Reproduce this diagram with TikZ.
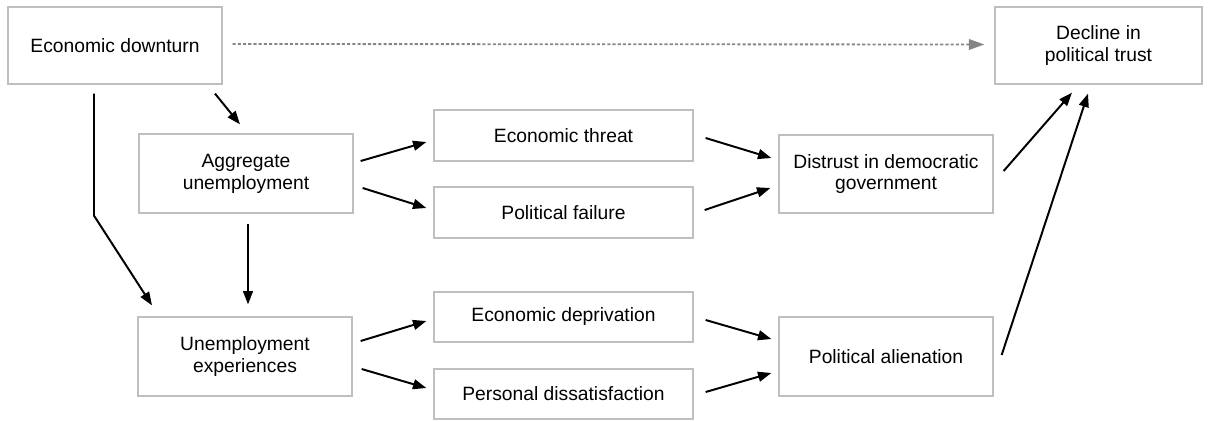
\documentclass[tikz,border=0pt]{standalone}
\usepackage{fontspec}
\setmainfont{Liberation Sans}
\usepackage{xcolor}
\usepackage{tikz}
\usetikzlibrary{positioning, arrows.meta, calc}
\definecolor{boxgray}{HTML}{BFBFBF}
\definecolor{dotgray}{HTML}{858585}

\begin{document}
\begin{tikzpicture}[x=0.025cm, y=-0.025cm,
    box/.style 2 args={draw=boxgray, line width=0.9pt, fill=white,
      minimum width=#1*0.025cm, minimum height=#2*0.025cm,
      inner sep=0pt, align=center, font=\fontsize{13.7}{15.5}\selectfont},
    arr/.style={line width=1.4pt, -{Triangle[length=9.5pt, width=7pt]}},
    dotarr/.style={dotgray, line width=1.3pt, dash pattern=on 2.2pt off 1.5pt,
      -{Triangle[length=11pt, width=7.5pt]}}]
  \useasboundingbox (0,0) rectangle (1209,421);

  % boxes
  \node[box={214}{77}] (down) at (115,45.5) {Economic downturn};
  \node[box={207}{77}] (decline) at (1098.5,45.5) {Decline in\\political trust};
  \node[box={214}{79}] (agg) at (246,173.5) {Aggregate\\unemployment};
  \node[box={214}{79}] (unemp) at (245,356.5) {Unemployment\\experiences};
  \node[box={259}{51}] (threat) at (563.5,135.5) {Economic threat};
  \node[box={259}{51}] (failure) at (563.5,212.5) {Political failure};
  \node[box={259}{50}] (depriv) at (563.5,317) {Economic deprivation};
  \node[box={259}{50}] (dissat) at (563.5,394) {Personal dissatisfaction};
  \node[box={214}{78}] (distrust) at (886,174) {Distrust in democratic\\government};
  \node[box={214}{79}] (alien) at (886,356.5) {Political alienation};

  % connectors
  \draw[dotarr] ($(down.east)+(10,-1.5)$) -- ($(decline.west)+(-10,-1)$);
  \draw[arr] ($(down.south)+(100,9)$) -- ($(agg.north)+(-6,-9)$);
  \draw[arr] ($(down.south)+(-21,9)$) -- ++(0,122) -- ($(unemp.north)+(-93,-11)$);
  \draw[arr] ($(agg.south)+(2,10)$) -- ($(unemp.north)+(3,-12)$);

  \draw[arr] ($(agg.east)+(7,-12.5)$) -- ($(threat.west)+(-7,6.5)$);
  \draw[arr] ($(agg.east)+(9,14.5)$) -- ($(failure.west)+(-7,-4.5)$);
  \draw[arr] ($(unemp.east)+(8,-15.5)$) -- ($(depriv.west)+(-7,4)$);
  \draw[arr] ($(unemp.east)+(9,12.5)$) -- ($(dissat.west)+(-7,-6)$);

  \draw[arr] ($(threat.east)+(12,2.5)$) -- ($(distrust.west)+(-7,-16)$);
  \draw[arr] ($(failure.east)+(11,-2.5)$) -- ($(distrust.west)+(-8,14)$);
  \draw[arr] ($(depriv.east)+(12,3)$) -- ($(alien.west)+(-7,-17.5)$);
  \draw[arr] ($(dissat.east)+(12,-2)$) -- ($(alien.west)+(-7,16.5)$);

  \draw[arr] ($(distrust.east)+(10,-3)$) -- ($(decline.south)+(-26.5,8)$);
  \draw[arr] ($(alien.east)+(8,-1.5)$) -- ($(decline.south)+(-10.5,9)$);
\end{tikzpicture}
\end{document}
